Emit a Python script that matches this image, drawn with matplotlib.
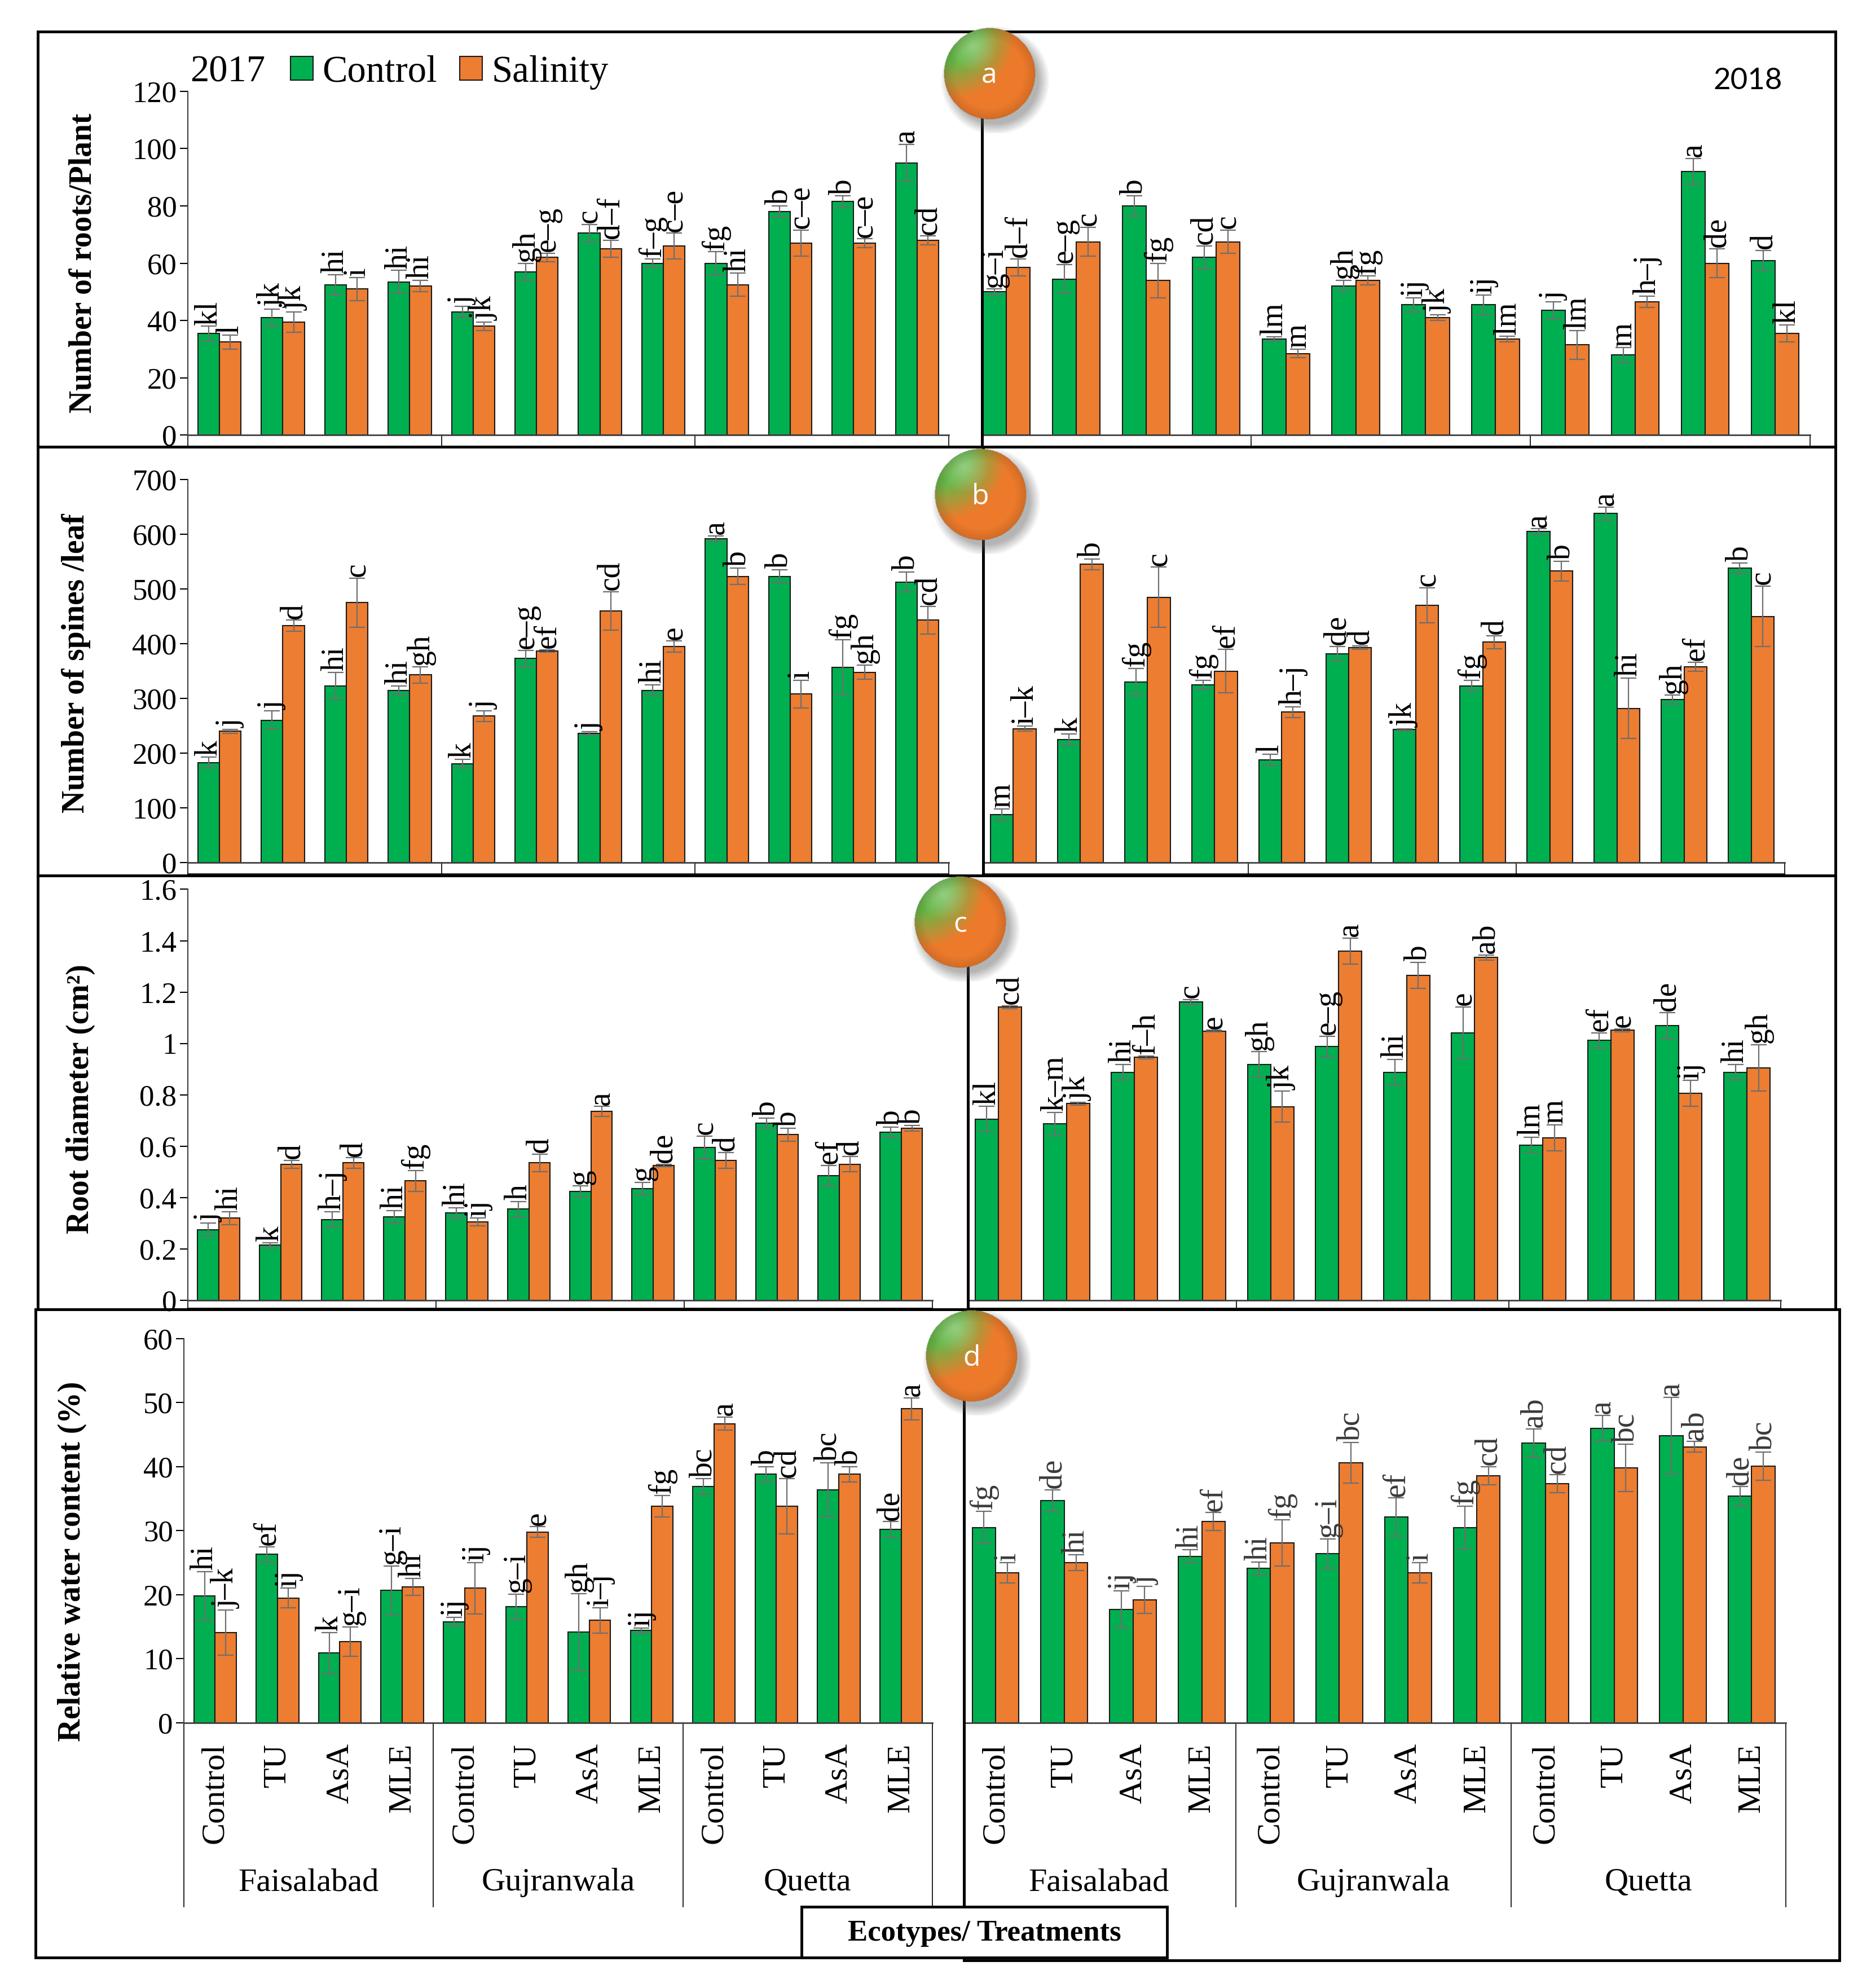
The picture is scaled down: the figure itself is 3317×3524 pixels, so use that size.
import numpy as np
import matplotlib
matplotlib.use('Agg')
import matplotlib.pyplot as plt
from matplotlib.patches import Rectangle
from matplotlib.ticker import FuncFormatter

plt.rcParams['font.family'] = ['Liberation Serif', 'DejaVu Serif']

GREEN = '#00B050'
ORANGE = '#ED7D31'

treatments = ['Control', 'TU', 'AsA', 'MLE']
ecotypes = ['Faisalabad', 'Gujranwala', 'Quetta']

# ---- a: number of roots / plant
roots17_ctrl = [35.5, 41, 52.5, 53.5, 43, 57, 70.5, 60, 60, 78, 81.5, 95]
roots17_ctrl_err = [2.5, 3, 3.5, 4, 2, 3, 3, 1.5, 4, 2, 2, 6.5]
roots17_sal = [32.5, 39.5, 51, 52, 38, 62, 65, 66, 52.5, 67, 67, 68]
roots17_sal_err = [2.5, 3.5, 4, 2, 1.5, 1.5, 3, 4.5, 4, 4.5, 1.5, 1.5]
roots17_ctrl_let = ['kl', 'jk', 'hi', 'hi', 'j', 'gh', 'c', 'f–g', 'fg', 'b', 'b', 'a']
roots17_sal_let = ['l', 'jk', 'i', 'hi', 'jk', 'e–g', 'd–f', 'c–e', 'hi', 'c–e', 'c–e', 'cd']

roots18_ctrl = [50, 54.5, 80, 62, 33.5, 52, 45.5, 45.5, 43.5, 28, 92, 61]
roots18_ctrl_err = [1, 5, 3.5, 4, 0.8, 2, 2.5, 3.5, 3, 2.5, 4.5, 3.5]
roots18_sal = [58.5, 67.5, 54, 67.5, 28.5, 54, 41, 33.5, 31.5, 46.5, 60, 35.5]
roots18_sal_err = [3, 5, 6, 4, 1.5, 1.5, 1, 1, 5, 2, 5, 3]
roots18_ctrl_let = ['g–i', 'e–g', 'b', 'cd', 'lm', 'gh', 'ij', 'ij', 'j', 'm', 'a', 'd']
roots18_sal_let = ['d–f', 'c', 'fg', 'c', 'm', 'fg', 'jk', 'lm', 'lm', 'h–j', 'de', 'kl']

# ---- b: number of spines / leaf
spines17_ctrl = [183, 260, 323, 315, 181, 373, 236, 315, 592, 523, 357, 513]
spines17_ctrl_err = [10, 17, 25, 8, 8, 15, 3, 10, 5, 12, 50, 18]
spines17_sal = [240, 433, 475, 343, 268, 387, 460, 395, 523, 308, 348, 443]
spines17_sal_err = [4, 10, 45, 15, 10, 2, 35, 10, 15, 25, 13, 25]
spines17_ctrl_let = ['k', 'j', 'hi', 'hi', 'k', 'e–g', 'j', 'hi', 'a', 'b', 'fg', 'b']
spines17_sal_let = ['j', 'd', 'c', 'gh', 'j', 'ef', 'cd', 'e', 'b', 'i', 'gh', 'cd']

spines18_ctrl = [88, 225, 330, 325, 188, 382, 243, 323, 605, 638, 298, 538]
spines18_ctrl_err = [10, 10, 25, 8, 10, 13, 2, 10, 5, 12, 8, 10]
spines18_sal = [245, 545, 485, 350, 275, 393, 470, 403, 533, 282, 358, 450]
spines18_sal_err = [5, 10, 55, 40, 10, 3, 32, 12, 18, 55, 8, 55]
spines18_ctrl_let = ['m', 'k', 'fg', 'fg', 'l', 'de', 'jk', 'fg', 'a', 'a', 'gh', 'b']
spines18_sal_let = ['i–k', 'b', 'c', 'ef', 'h–j', 'd', 'c', 'd', 'b', 'hi', 'ef', 'c']

# ---- c: root diameter
diam17_ctrl = [0.275, 0.215, 0.315, 0.325, 0.34, 0.355, 0.425, 0.435, 0.595, 0.69, 0.485, 0.655]
diam17_ctrl_err = [0.025, 0.01, 0.03, 0.025, 0.02, 0.03, 0.02, 0.025, 0.045, 0.02, 0.04, 0.02]
diam17_sal = [0.32, 0.53, 0.535, 0.465, 0.305, 0.535, 0.735, 0.525, 0.545, 0.645, 0.53, 0.67]
diam17_sal_err = [0.025, 0.015, 0.02, 0.04, 0.015, 0.035, 0.02, 0.005, 0.03, 0.025, 0.03, 0.01]
diam17_ctrl_let = ['j', 'k', 'h–j', 'hi', 'hi', 'h', 'g', 'g', 'c', 'b', 'ef', 'b']
diam17_sal_let = ['hi', 'd', 'd', 'fg', 'ij', 'd', 'a', 'de', 'd', 'b', 'd', 'b']

diam18_ctrl = [0.706, 0.687, 0.888, 1.161, 0.918, 0.988, 0.888, 1.042, 0.605, 1.012, 1.07, 0.888]
diam18_ctrl_err = [0.05, 0.045, 0.03, 0.01, 0.05, 0.04, 0.05, 0.1, 0.03, 0.03, 0.05, 0.03]
diam18_sal = [1.141, 0.766, 0.946, 1.048, 0.754, 1.36, 1.265, 1.335, 0.633, 1.051, 0.806, 0.905]
diam18_sal_err = [0.005, 0.005, 0.005, 0.003, 0.06, 0.05, 0.05, 0.01, 0.05, 0.005, 0.05, 0.09]
diam18_ctrl_let = ['kl', 'k–m', 'hi', 'c', 'gh', 'e–g', 'hi', 'e', 'lm', 'ef', 'de', 'hi']
diam18_sal_let = ['cd', 'jk', 'f–h', 'e', 'jk', 'a', 'b', 'ab', 'm', 'e', 'ij', 'gh']

# ---- d: relative water content
rwc17_ctrl = [19.8, 26.3, 10.9, 20.7, 15.8, 18.1, 14.2, 14.4, 36.9, 38.8, 36.4, 30.2]
rwc17_ctrl_err = [3.8, 1.2, 3.2, 3.8, 0.7, 2, 6, 0.4, 1.2, 1.2, 4.2, 1.2]
rwc17_sal = [14.1, 19.5, 12.7, 21.2, 21.0, 29.8, 16.0, 33.8, 46.7, 33.8, 38.8, 49.0]
rwc17_sal_err = [3.5, 1.5, 2.3, 1.3, 4.0, 0.8, 2.0, 1.7, 1, 4.3, 1.2, 1.7]
rwc17_ctrl_let = ['hi', 'ef', 'k', 'g–i', 'ij', 'g–i', 'gh', 'ij', 'bc', 'b', 'bc', 'de']
rwc17_sal_let = ['j–k', 'ij', 'g–i', 'hi', 'ij', 'e', 'i–j', 'fg', 'a', 'cd', 'b', 'a']

rwc18_ctrl = [30.5, 34.7, 17.7, 26.0, 24.1, 26.4, 32.1, 30.5, 43.7, 46.0, 44.8, 35.4]
rwc18_ctrl_err = [2.5, 1.7, 2.9, 1, 1, 2.3, 3, 3.3, 2.2, 2, 6, 1.5]
rwc18_sal = [23.4, 25.0, 19.2, 31.4, 28.1, 40.6, 23.4, 38.6, 37.3, 39.8, 43.1, 40.1]
rwc18_sal_err = [1.6, 1.2, 2.1, 1.4, 3.6, 3.2, 1.6, 1.4, 1.4, 3.7, 0.8, 2.2]
rwc18_ctrl_let = ['fg', 'de', 'ij', 'hi', 'hi', 'g–i', 'ef', 'fg', 'ab', 'a', 'a', 'de']
rwc18_sal_let = ['i', 'hi', 'j', 'ef', 'fg', 'bc', 'i', 'cd', 'cd', 'bc', 'ab', 'bc']

# layout is measured on a 1475 x 1567 view of the picture
DW, DH = 1475.0, 1567.0


def fx(x):
    return x / DW


def fy(y):
    return 1 - y / DH


def add_ax(x0, x1, ytop, ybot):
    return fig.add_axes([fx(x0), fy(ybot), fx(x1) - fx(x0), fy(ytop) - fy(ybot)])


fig = plt.figure(figsize=(33.17, 35.24), dpi=100)

x = np.arange(12)
w = 0.34
LET = 40
ekw = dict(ecolor='#6e6e6e', elinewidth=1.6, capsize=10, capthick=1.6)


def draw(ax, ctrl, ctrl_err, sal, sal_err, lc, ls, ymax, xmin, left, lcol='black'):
    bc = ax.bar(x - w / 2, ctrl, w, yerr=ctrl_err, color=GREEN, edgecolor='#1a1a1a',
                linewidth=1.5, error_kw=ekw)
    bs = ax.bar(x + w / 2, sal, w, yerr=sal_err, color=ORANGE, edgecolor='#1a1a1a',
                linewidth=1.5, error_kw=ekw)
    for xi, v, e, t in zip(x - w / 2, ctrl, ctrl_err, lc):
        ax.annotate(t, (xi, v + e), xytext=(0, 2), textcoords='offset points',
                    rotation=90, ha='center', va='bottom', fontsize=LET, color=lcol)
    for xi, v, e, t in zip(x + w / 2, sal, sal_err, ls):
        ax.annotate(t, (xi, v + e), xytext=(0, 2), textcoords='offset points',
                    rotation=90, ha='center', va='bottom', fontsize=LET, color=lcol)
    ax.set_xlim(xmin, 11.5)
    ax.set_ylim(0, ymax)
    ax.spines['top'].set_visible(False)
    ax.spines['right'].set_visible(False)
    ax.spines['bottom'].set_color('#404040')
    ax.spines['bottom'].set_linewidth(2)
    ax.patch.set_alpha(0)
    if left:
        ax.spines['left'].set_color('#404040')
        ax.spines['left'].set_linewidth(1.5)
        ax.tick_params(axis='y', labelsize=38, length=10, width=1.5, pad=4)
        ax.yaxis.set_major_formatter(FuncFormatter(lambda v, p: '{:g}'.format(round(v, 1))))
    else:
        ax.spines['left'].set_visible(False)
        ax.set_yticks([])
    return bc, bs


def strip(ax, depth, xmin, bottom_line=True):
    tr = ax.get_xaxis_transform()
    for xb in [-0.5, 3.5, 7.5, 11.5]:
        if xb >= xmin:
            ax.plot([xb, xb], [0, -depth], transform=tr, clip_on=False, color='black', lw=1.2)
    if bottom_line:
        ax.plot([max(xmin, -0.5), 11.5], [-depth, -depth], transform=tr, clip_on=False,
                color='black', lw=1.2)


YL = dict(fontsize=40, fontweight='bold')

# panel a
axa1 = add_ax(148, 748, 72, 343)
bc, bs = draw(axa1, roots17_ctrl, roots17_ctrl_err, roots17_sal, roots17_sal_err,
              roots17_ctrl_let, roots17_sal_let, 120, -0.5, True)
axa1.set_yticks(range(0, 121, 20))
axa1.set_xticks([])
strip(axa1, 9 / 271, -0.5)
axa1.set_ylabel('Number of roots/Plant', **YL)
axa1.yaxis.set_label_coords(-0.118, 0.5)

axa2 = add_ax(774, 1427, 72, 343)
draw(axa2, roots18_ctrl, roots18_ctrl_err, roots18_sal, roots18_sal_err,
     roots18_ctrl_let, roots18_sal_let, 120, -0.35, False)
axa2.set_xticks([])
strip(axa2, 9 / 271, -0.35)

# panel b
axb1 = add_ax(148, 748, 378, 680)
draw(axb1, spines17_ctrl, spines17_ctrl_err, spines17_sal, spines17_sal_err,
     spines17_ctrl_let, spines17_sal_let, 700, -0.5, True)
axb1.set_yticks(range(0, 701, 100))
axb1.set_xticks([])
strip(axb1, 9 / 302, -0.5)
axb1.set_ylabel('Number of spines /leaf', **YL)
axb1.yaxis.set_label_coords(-0.127, 0.52)

axb2 = add_ax(775, 1407, 378, 680)
draw(axb2, spines18_ctrl, spines18_ctrl_err, spines18_sal, spines18_sal_err,
     spines18_ctrl_let, spines18_sal_let, 700, -0.45, False)
axb2.set_xticks([])
strip(axb2, 9 / 302, -0.45)

# panel c
axc1 = add_ax(148, 735, 701, 1025)
draw(axc1, diam17_ctrl, diam17_ctrl_err, diam17_sal, diam17_sal_err,
     diam17_ctrl_let, diam17_sal_let, 1.6, -0.5, True)
axc1.set_yticks(np.arange(0, 1.61, 0.2))
axc1.set_xticks([])
strip(axc1, 6 / 324, -0.5)
axc1.set_ylabel('Root diameter (cm²)', **YL)
axc1.yaxis.set_label_coords(-0.124, 0.49)

axc2 = add_ax(764, 1404, 701, 1025)
draw(axc2, diam18_ctrl, diam18_ctrl_err, diam18_sal, diam18_sal_err,
     diam18_ctrl_let, diam18_sal_let, 1.6, -0.43, False)
axc2.set_xticks([])
strip(axc2, 6 / 324, -0.43)

# panel d
axd1 = add_ax(145, 735, 1055, 1358)
draw(axd1, rwc17_ctrl, rwc17_ctrl_err, rwc17_sal, rwc17_sal_err,
     rwc17_ctrl_let, rwc17_sal_let, 60, -0.5, True)
axd1.set_yticks(range(0, 61, 10))
axd1.set_ylabel('Relative water content (%)', **YL)
axd1.yaxis.set_label_coords(-0.13, 0.42)

axd2 = add_ax(761, 1408, 1055, 1358)
draw(axd2, rwc18_ctrl, rwc18_ctrl_err, rwc18_sal, rwc18_sal_err,
     rwc18_ctrl_let, rwc18_sal_let, 60, -0.44, False, lcol='#3a3a3a')

for ax, xmin in [(axd1, -0.5), (axd2, -0.44)]:
    ax.set_xticks(x)
    ax.set_xticklabels(treatments * 3, rotation=90, fontsize=42)
    ax.tick_params(axis='x', length=0, pad=26)
    strip(ax, 0.479, xmin, bottom_line=False)
    for g, name in enumerate(ecotypes):
        ax.text(4 * g + 1.5, -0.416, name, transform=ax.get_xaxis_transform(),
                ha='center', va='center', fontsize=42)

# legend and year labels
fig.text(fx(150), fy(57), '2017', fontsize=48, ha='left', va='center')
fig.legend(handles=[bc, bs], labels=['Control', 'Salinity'], loc='center left',
           bbox_to_anchor=(fx(229), fy(57)), ncol=2, frameon=False, fontsize=48,
           handlelength=0.6, handleheight=0.6, handletextpad=0.25, columnspacing=0.6,
           borderpad=0, borderaxespad=0)
fig.text(fx(1378), fy(64), '2018', fontsize=38, ha='center', va='center',
         family=['Lato', 'DejaVu Sans'])

# panel frames
frames = [
    (30, 25, 774, 352), (774, 25, 1447, 352),
    (30, 352, 775, 690), (775, 352, 1447, 690),
    (30, 690, 763, 1032), (763, 690, 1447, 1032),
    (28, 1032, 760, 1543), (760, 1032, 1450, 1545),
]
for x0, y0, x1, y1 in frames:
    fig.add_artist(Rectangle((fx(x0), fy(y1)), fx(x1) - fx(x0), fy(y0) - fy(y1),
                             transform=fig.transFigure, fill=False, lw=3.5,
                             ec='black', zorder=3))

fig.add_artist(Rectangle((fx(632), fy(1543)), fx(920) - fx(632), fy(1503) - fy(1543),
                         transform=fig.transFigure, fc='white', lw=3.5, ec='black',
                         zorder=4))
fig.text(fx(776), fy(1524), 'Ecotypes/ Treatments', fontsize=38, fontweight='bold',
         ha='center', va='center', zorder=5)


# round panel badges
def badge(cx, cy, letter):
    r = 36
    s = 1.3 * r
    bax = fig.add_axes([fx(cx - s), fy(cy + s), fx(2 * s), fx(2 * s) * DW / DH])
    bax.set_zorder(6)
    n = 240
    u, v = np.meshgrid(np.linspace(-1.3, 1.3, n), np.linspace(-1.3, 1.3, n))
    img = np.zeros((n, n, 4))
    # soft shadow
    sd = np.hypot(u - 0.12, v + 0.15)
    img[..., 3] = np.clip((1.2 - sd) / 0.25, 0, 1) * 0.45
    img[..., :3] = 0.35
    d = np.hypot(u + 0.8, v - 0.8)
    t = np.clip((d - 0.55) / 0.8, 0, 1)[..., None]
    green = np.array([0.40, 0.72, 0.28])
    orange = np.array([0.93, 0.48, 0.17])
    col = green * (1 - t) + orange * t
    hl = np.clip(1 - np.hypot(u + 0.35, v - 0.6) / 0.55, 0, 1)[..., None] * 0.3
    col = col * (1 - hl) + hl
    edge = np.clip((np.hypot(u, v) - 0.75) / 0.25, 0, 1)[..., None] * 0.12
    col = col * (1 - edge)
    inside = np.hypot(u, v) <= 1.0
    img[inside, :3] = col[inside]
    img[inside, 3] = 1
    bax.imshow(img, extent=(-1.3, 1.3, -1.3, 1.3), origin='lower', interpolation='bilinear')
    bax.text(0, -0.05, letter, color='white', fontsize=36, ha='center', va='center',
             family=['Open Sans', 'DejaVu Sans'])
    bax.set_xlim(-1.3, 1.3)
    bax.set_ylim(-1.3, 1.3)
    bax.axis('off')


badge(780, 58, 'a')
badge(773, 390, 'b')
badge(757, 727, 'c')
badge(766, 1069, 'd')

fig.savefig('out.png', dpi=100, facecolor='white')
